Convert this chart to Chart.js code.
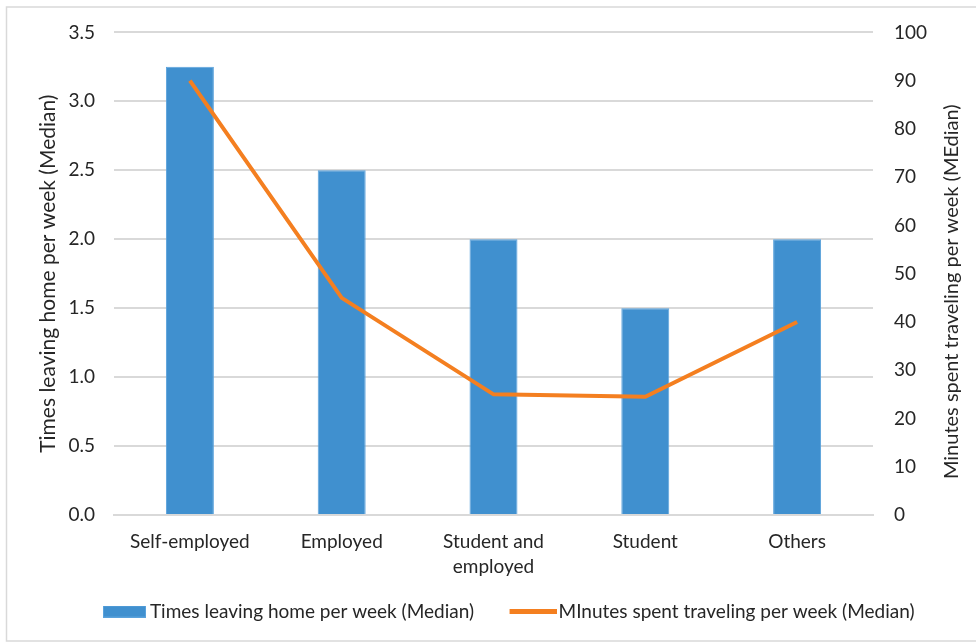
<!DOCTYPE html>
<html>
<head>
<meta charset="utf-8">
<script src="https://cdn.jsdelivr.net/npm/chart.js@4/dist/chart.umd.min.js"></script>
<style>
  html, body { margin: 0; padding: 0; background: #ffffff; }
  #wrap { position: relative; width: 976px; height: 643px; }
</style>
</head>
<body>
<div id="wrap"><canvas id="c" width="976" height="643"></canvas></div>
<script>
const categories = ['Self-employed', 'Employed', ['Student and', 'employed'], 'Student', 'Others'];
const timesLeaving = [3.25, 2.5, 2.0, 1.5, 2.0];
const minutesTraveling = [90, 45, 25, 24.5, 40];
const barLabel = 'Times leaving home per week (Median)';
const lineLabel = 'MInutes spent traveling per week (Median)';
const leftTitle = 'Times leaving home per week (Median)';
const rightTitle = 'Minutes spent traveling per week (MEdian)';

const FONT = 'Lato';
const TXT = '#262626';
const GRID = '#d9d9d9';
const BLUE = '#4090cf';
const BLUE_EDGE = '#5aa2dc';
const ORANGE = '#f47f20';

// legend swatches: transparent margin on the left, coloured mark on the right
function makeSwatch(w, h, markW, fill, edge) {
  const cv = document.createElement('canvas');
  cv.width = w; cv.height = h;
  const g = cv.getContext('2d');
  const x0 = w - markW;
  g.fillStyle = fill;
  g.fillRect(x0, 0, markW, h);
  if (edge) { g.strokeStyle = edge; g.lineWidth = 1; g.strokeRect(x0 + 0.5, 0.5, markW - 1, h - 1); }
  return cv;
}
const barSwatch = makeSwatch(67, 12, 43, BLUE, BLUE_EDGE);
const lineSwatch = makeSwatch(71, 5, 47, ORANGE, null);

const framePlugin = {
  id: 'frame',
  beforeDraw(chart) {
    const ctx = chart.ctx;
    ctx.save();
    ctx.fillStyle = '#ffffff';
    ctx.fillRect(0, 0, chart.width, chart.height);
    ctx.strokeStyle = '#d9d9d9';
    ctx.lineWidth = 1.5;
    ctx.strokeRect(6.5, 7, chart.width + 20, 634);
    ctx.restore();
  },
  afterDraw(chart) {
    const ctx = chart.ctx;
    const ca = chart.chartArea;
    ctx.save();
    ctx.fillStyle = TXT;
    ctx.font = '20px ' + FONT;
    ctx.textAlign = 'center';
    ctx.textBaseline = 'middle';
    ctx.translate(952, (ca.top + ca.bottom) / 2 + 18);
    ctx.rotate(-Math.PI / 2);
    ctx.fillText(rightTitle, 0, 0);
    ctx.restore();
  }
};

new Chart(document.getElementById('c'), {
  data: {
    labels: categories,
    datasets: [
      {
        type: 'line',
        label: lineLabel,
        data: minutesTraveling,
        yAxisID: 'yRight',
        borderColor: ORANGE,
        backgroundColor: ORANGE,
        borderWidth: 4,
        pointRadius: 0,
        pointHoverRadius: 0,
        tension: 0,
        order: 0
      },
      {
        type: 'bar',
        label: barLabel,
        data: timesLeaving,
        yAxisID: 'yLeft',
        backgroundColor: BLUE,
        borderColor: BLUE_EDGE,
        borderWidth: 1,
        barPercentage: 0.316,
        categoryPercentage: 1,
        order: 1
      }
    ]
  },
  options: {
    responsive: false,
    animation: false,
    devicePixelRatio: 1,
    layout: { padding: { left: 36, right: 13, top: 31, bottom: 12 } },
    plugins: {
      tooltip: { enabled: false },
      legend: {
        position: 'bottom',
        reverse: true,
        labels: {
          color: TXT,
          font: { family: FONT, size: 19 },
          usePointStyle: true,
          pointStyleWidth: 56,
          boxHeight: 12,
          padding: 19,
          generateLabels(chart) {
            const items = Chart.defaults.plugins.legend.labels.generateLabels(chart);
            items.forEach(it => {
              const ds = chart.data.datasets[it.datasetIndex];
              it.pointStyle = ds.type === 'line' ? lineSwatch : barSwatch;
            });
            return items;
          }
        }
      }
    },
    scales: {
      x: {
        grid: { display: false, drawTicks: false },
        border: { display: true, color: GRID, width: 2 },
        ticks: { color: TXT, font: { family: FONT, size: 19, lineHeight: 1.3 }, padding: 15, maxRotation: 0, autoSkip: false },
        afterFit(scale) { scale.height = 68; }
      },
      yLeft: {
        position: 'left',
        min: 0, max: 3.5,
        grid: { color: GRID, lineWidth: 2, drawTicks: false },
        border: { display: false },
        ticks: {
          stepSize: 0.5, padding: 19, color: TXT,
          font: { family: FONT, size: 19 },
          callback: v => Number(v).toFixed(1)
        },
        title: { display: true, text: leftTitle, color: TXT, font: { family: FONT, size: 21 }, padding: 0 },
        afterFit(scale) { scale.width = 78; }
      },
      yRight: {
        position: 'right',
        min: 0, max: 100,
        grid: { display: false, drawTicks: false },
        border: { display: false },
        ticks: { stepSize: 10, padding: 21, color: TXT, font: { family: FONT, size: 19 } },
        afterFit(scale) { scale.width = 90; }
      }
    }
  },
  plugins: [framePlugin]
});
</script>
</body>
</html>
